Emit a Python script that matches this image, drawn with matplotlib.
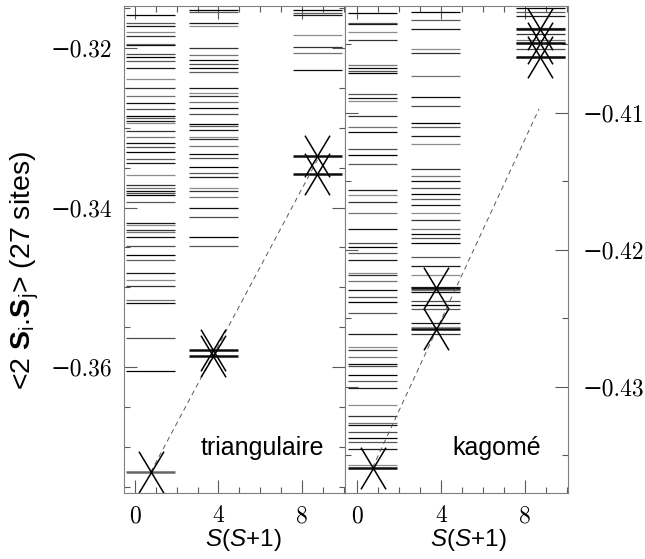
import matplotlib.pyplot as plt
from matplotlib.path import Path
from matplotlib.ticker import FixedLocator, MultipleLocator, FixedFormatter

plt.rcParams['font.family'] = ['Liberation Sans', 'DejaVu Sans']
plt.rcParams['mathtext.fontset'] = 'custom'
plt.rcParams['mathtext.rm'] = 'Liberation Sans'
plt.rcParams['mathtext.it'] = 'Liberation Sans:italic'
plt.rcParams['mathtext.bf'] = 'Liberation Sans:bold'

# S(S+1) for S = 1/2, 3/2, 5/2
ss1 = [0.75, 3.75, 8.75]

# triangular lattice, energy levels per spin sector
tri_half = [-0.3159, -0.3169, -0.3172, -0.3180, -0.3185, -0.3195, -0.3196, -0.3208,
            -0.3211, -0.3216, -0.3225, -0.3239, -0.3250, -0.3260, -0.3269, -0.3277,
            -0.3285, -0.3288, -0.3292, -0.3294, -0.3304, -0.3312, -0.3319, -0.3324,
            -0.3330, -0.3339, -0.3344, -0.3359, -0.3372, -0.3376, -0.3379, -0.3382,
            -0.3384, -0.3393, -0.3419, -0.3422, -0.3428, -0.3431, -0.3437, -0.3448,
            -0.3460, -0.3466, -0.3482, -0.3491, -0.3498, -0.3516, -0.3520, -0.3564,
            -0.3605]
tri_3half = [-0.3152, -0.3155, -0.3169, -0.3172, -0.3200, -0.3209, -0.3215, -0.3220,
             -0.3225, -0.3230, -0.3250, -0.3256, -0.3260, -0.3268, -0.3275, -0.3283,
             -0.3295, -0.3298, -0.3303, -0.3312, -0.3314, -0.3323, -0.3333, -0.3338,
             -0.3349, -0.3357, -0.3362, -0.3376, -0.3379, -0.3387, -0.3401, -0.3412,
             -0.3437, -0.3448]
tri_5half = [-0.3152, -0.3156, -0.3159, -0.3184, -0.3199, -0.3206, -0.3228]

# kagome lattice, energy levels per spin sector
kag_half = [-0.4027, -0.4034, -0.4035, -0.4041, -0.4047, -0.4065, -0.4067, -0.4069,
            -0.4071, -0.4086, -0.4089, -0.4091, -0.4102, -0.4110, -0.4114, -0.4126,
            -0.4131, -0.4137, -0.4156, -0.4160, -0.4165, -0.4173, -0.4185, -0.4195,
            -0.4198, -0.4202, -0.4207, -0.4217, -0.4218, -0.4223, -0.4229, -0.4234,
            -0.4238, -0.4246, -0.4261, -0.4271, -0.4273, -0.4278, -0.4283, -0.4285,
            -0.4291, -0.4296, -0.4301, -0.4313, -0.4321, -0.4326, -0.4328, -0.4333,
            -0.4337, -0.4340, -0.4345, -0.4357]
kag_3half = [-0.4026, -0.4032, -0.4039, -0.4053, -0.4056, -0.4073, -0.4088, -0.4095,
             -0.4107, -0.4110, -0.4117, -0.4123, -0.4141, -0.4146, -0.4150, -0.4155,
             -0.4159, -0.4163, -0.4167, -0.4173, -0.4178, -0.4185, -0.4188, -0.4191,
             -0.4195, -0.4205, -0.4212, -0.4218, -0.4227, -0.4229, -0.4231, -0.4237,
             -0.4240, -0.4243, -0.4253, -0.4256, -0.4261]
kag_5half = [-0.4023, -0.4026, -0.4029, -0.4038, -0.4042, -0.4047, -0.4049, -0.4053,
             -0.4059]

# marked states (crosses) and linear tower fit
tri_cross_x = [0.75, 3.75, 3.75, 8.75, 8.75]
tri_cross_y = [-0.3732, -0.3579, -0.3586, -0.3335, -0.3358]
kag_cross_x = [0.75, 3.75, 3.75, 8.75, 8.75, 8.75]
kag_cross_y = [-0.4359, -0.4228, -0.4258, -0.4039, -0.4049, -0.4059]
tri_fit_x = [0.75, 8.75]
tri_fit_y = [-0.3732, -0.3340]
kag_fit_x = [0.75, 8.68]
kag_fit_y = [-0.4359, -0.4097]

shades = ['0.0', '0.35', '0.1', '0.55', '0.2', '0.45', '0.05', '0.3']
half_w = 1.17

xmark = Path([(-0.6, -1), (0.6, 1), (-0.6, 1), (0.6, -1)],
             [Path.MOVETO, Path.LINETO, Path.MOVETO, Path.LINETO])

tick_font = ['cmr10', 'DejaVu Serif']


def draw_panel(ax, columns, cross_x, cross_y, fit_x, fit_y, first_col):
    for x0, levels in zip(ss1, columns):
        cols = [shades[i % len(shades)] for i in range(len(levels))]
        ax.hlines(levels, x0 - half_w, x0 + half_w, colors=cols, linewidth=0.9)
    line_cols = [first_col] + ['0.05'] * (len(cross_y) - 1)
    ax.hlines(cross_y, [x - half_w for x in cross_x], [x + half_w for x in cross_x],
              colors=line_cols, linewidth=1.8)
    ax.plot(fit_x, fit_y, linestyle=(0, (5, 4)), color='0.35', linewidth=0.7)
    ax.plot(cross_x, cross_y, linestyle='none', marker=xmark, markersize=30,
            markerfacecolor='none', markeredgecolor='k', markeredgewidth=1.1)

    ax.xaxis.set_major_locator(FixedLocator([0, 4, 8]))
    ax.xaxis.set_major_formatter(FixedFormatter(['0', '4', '8']))
    ax.xaxis.set_minor_locator(MultipleLocator(1))
    ax.tick_params(which='both', direction='in', top=True, bottom=True,
                   left=True, right=True, color='0.35', width=0.8)
    ax.tick_params(which='major', length=9.5, pad=8.6, labelsize=17,
                   labelfontfamily=tick_font)
    ax.tick_params(which='minor', length=4.5)
    for sp in ax.spines.values():
        sp.set_color('0.5')
        sp.set_linewidth(0.8)


fig = plt.figure(figsize=(6.45, 5.59), dpi=100)
ax1 = fig.add_axes([124 / 645, 66 / 559, 221 / 645, 487 / 559])
ax2 = fig.add_axes([345 / 645, 66 / 559, 223 / 645, 487 / 559])

draw_panel(ax1, [tri_half, tri_3half, tri_5half], tri_cross_x, tri_cross_y,
           tri_fit_x, tri_fit_y, '0.4')
draw_panel(ax2, [kag_half, kag_3half, kag_5half], kag_cross_x, kag_cross_y,
           kag_fit_x, kag_fit_y, '0.05')

ax1.set_xlim(-0.53, 10.07)
ax1.set_ylim(-0.3758, -0.31473)
ax1.yaxis.set_major_locator(FixedLocator([-0.32, -0.34, -0.36]))
ax1.yaxis.set_major_formatter(FixedFormatter(['\u22120.32', '\u22120.34', '\u22120.36']))
ax1.yaxis.set_minor_locator(MultipleLocator(0.005))
ax1.tick_params(axis='y', labelleft=True, labelright=False)

ax2.set_xlim(-0.56, 10.06)
ax2.set_ylim(-0.43774, -0.40219)
ax2.yaxis.set_major_locator(FixedLocator([-0.41, -0.42, -0.43]))
ax2.yaxis.set_major_formatter(FixedFormatter(['\u22120.41', '\u22120.42', '\u22120.43']))
ax2.yaxis.set_minor_locator(MultipleLocator(0.005))
ax2.tick_params(axis='y', labelleft=False, labelright=True, pad=10.8)

ax1.text(0.624, 0.092, 'triangulaire', transform=ax1.transAxes,
         ha='center', va='center', fontsize=18)
ax2.text(0.682, 0.092, 'kagomé', transform=ax2.transAxes,
         ha='center', va='center', fontsize=18)

fig.text(243 / 645, 1 - 540 / 559, '$S$($S$+1)', ha='center', va='center', fontsize=17.5)
fig.text(468 / 645, 1 - 540 / 559, '$S$($S$+1)', ha='center', va='center', fontsize=17.5)
fig.text(25 / 645, 1 - 270 / 559,
         r'<2 $\mathbf{S}_\mathrm{i}$.$\mathbf{S}_\mathrm{j}$> (27 sites)',
         rotation=90, ha='center', va='center', fontsize=20.5)

fig.savefig('out.png', dpi=100)
